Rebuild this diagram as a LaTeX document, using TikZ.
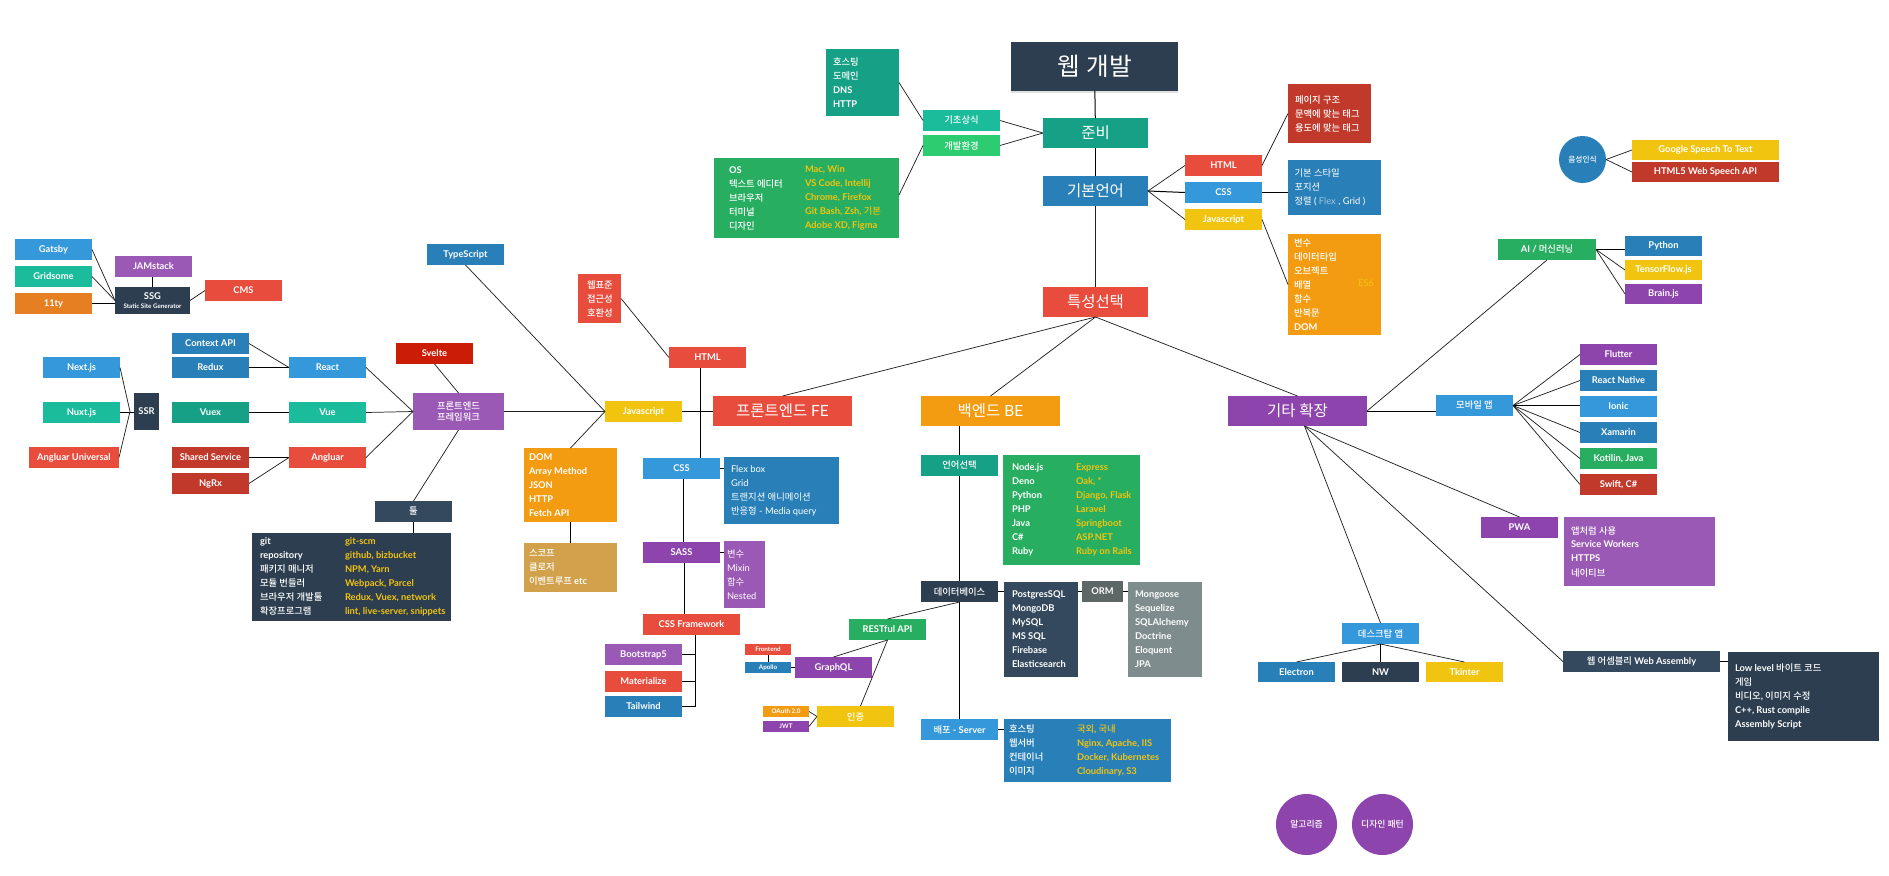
\documentclass[tikz,border=0pt]{standalone}
\usepackage{fontspec}
\setmainfont{Lato}
\newfontfamily\krf{Noto Sans CJK KR}[BoldFont=Noto Sans CJK KR Medium]
\chardef\krclass=77
\XeTeXinterchartokenstate=1
\newcount\krloop
\krloop="AC00
\loop\ifnum\krloop<"D7A4
  \XeTeXcharclass\krloop=\krclass
  \advance\krloop by 1
\repeat
\XeTeXinterchartoks 0 \krclass={\begingroup\krf}
\XeTeXinterchartoks 4095 \krclass={\begingroup\krf}
\XeTeXinterchartoks \krclass 0={\endgroup}
\XeTeXinterchartoks \krclass 4095={\endgroup}
\usetikzlibrary{shapes.geometric,shadows}
\definecolor{cRed}{HTML}{E74C3C}
\definecolor{cDRed}{HTML}{C0392B}
\definecolor{cBlue}{HTML}{3498DB}
\definecolor{cDBlue}{HTML}{2980B9}
\definecolor{cTeal}{HTML}{1ABC9C}
\definecolor{cDTeal}{HTML}{16A085}
\definecolor{cGreen}{HTML}{27AE60}
\definecolor{cLGreen}{HTML}{2ECC71}
\definecolor{cPurple}{HTML}{9B59B6}
\definecolor{cDPurple}{HTML}{8E44AD}
\definecolor{cNavy}{HTML}{2C3E50}
\definecolor{cSlate}{HTML}{34495E}
\definecolor{cYellow}{HTML}{F1C40F}
\definecolor{cOrange}{HTML}{F39C12}
\definecolor{cDOrange}{HTML}{E67E22}
\definecolor{cGray}{HTML}{7F8C8D}
\definecolor{cDGray}{HTML}{5C6766}
\definecolor{cTan}{HTML}{D2A14C}
\definecolor{cSvelte}{HTML}{CB1C05}
\definecolor{cLine}{HTML}{222222}
\newcommand\smallfs{\fontsize{7}{8}\selectfont\bfseries}
\newcommand\bigfs{\fontsize{11.6}{14}\selectfont}
\newcommand\tinyfs{\fontsize{4.7}{6}\selectfont\bfseries}
\tikzset{
  bx/.style={rectangle,inner sep=0pt,outer sep=0pt,text=white,align=center,font=\smallfs},
  elx/.style={ellipse,inner sep=0pt,outer sep=0pt,text=white,align=center,font=\fontsize{6.6}{8}\selectfont\bfseries},
  lst/.style={anchor=west,inner sep=0pt,outer sep=0pt,align=left,font=\fontsize{7}{10.5}\selectfont\bfseries},
  lstr/.style={anchor=west,inner sep=0pt,outer sep=0pt,align=left,font=\fontsize{7}{10.5}\selectfont},
  lk/.style={draw=cLine,line width=0.55pt},
  bar/.style={draw=black,line width=0.75pt},
  bign/.style={font=\bigfs},
  tiny/.style={font=\tinyfs}
}
\newcommand\bx[7][]{%
  \pgfmathsetmacro\bxW{(#5)-(#3)}\pgfmathsetmacro\bxH{(#6)-(#4)}%
  \pgfmathsetmacro\bxX{((#3)+(#5))/2}\pgfmathsetmacro\bxY{((#4)+(#6))/2}%
  \node[bx,fill=#7,minimum width=\bxW*0.75pt,minimum height=\bxH*0.75pt,#1] (#2) at (\bxX,\bxY) {\bxT};}
\newcommand\BX[8][]{\def\bxT{#8}\bx[#1]{#2}{#3}{#4}{#5}{#6}{#7}}
\newcommand\EL[7]{%
  \pgfmathsetmacro\bxW{(#4)-(#2)}\pgfmathsetmacro\bxH{(#5)-(#3)}%
  \pgfmathsetmacro\bxX{((#2)+(#4))/2}\pgfmathsetmacro\bxY{((#3)+(#5))/2}%
  \node[elx,fill=#6,minimum width=\bxW*0.75pt,minimum height=\bxH*0.75pt] (#1) at (\bxX,\bxY) {#7};}
\begin{document}
\begin{tikzpicture}[x=0.75pt,y=-0.75pt]
\useasboundingbox (0,0) rectangle (1889,875);
\fill[white] (0,0) rectangle (1889,875);
% spine
\BX[bign,font=\fontsize{18.5}{22}\selectfont,drop shadow={opacity=.25,shadow xshift=0pt,shadow yshift=-1.5pt}]{title}{1011}{42}{1178}{91}{cNavy}{웹 개발}
\BX[bign]{prep}{1043}{118}{1148}{148}{cDTeal}{준비}
\BX[bign]{lang}{1043}{176}{1148}{206}{cDBlue}{기본언어}
\BX[bign]{sel}{1043}{287}{1148}{317}{cRed}{특성선택}
\BX{basic}{923}{110}{1000}{131}{cTeal}{기초상식}
\BX{devenv}{923}{135}{1000}{156}{cLGreen}{개발환경}
\BX{hostb}{826}{49}{899}{116}{cDTeal}{}
\node[lst,text=white] (hostt) at (833,82.5) {호스팅\\도메인\\DNS\\HTTP};
\BX{envb}{714}{158}{899}{238}{cGreen}{}
\node[lst,text=white] (envl) at (729,198) {OS\\텍스트  에디터\\브라우저\\터미널\\디자인};
\node[lst,text=cYellow] (envr) at (805,198) {Mac, Win\\VS Code, Intellij\\Chrome, Firefox\\Git Bash, Zsh, 기본\\Adobe XD, Figma};
% basic languages
\BX{bhtml}{1185}{155}{1262}{176}{cRed}{HTML}
\BX{bcss}{1185}{182}{1262}{203}{cBlue}{CSS}
\BX{bjs}{1185}{209}{1262}{230}{cYellow}{Javascript}
\BX{pageb}{1288}{84}{1371}{143}{cDRed}{}
\node[lst,text=white] (paget) at (1295,113.5) {페이지 구조\\문맥에 맞는 태그\\용도에 맞는 태그};
\BX{styleb}{1288}{160}{1381}{215}{cDBlue}{}
\node[lstr,text=white] (stylet) at (1294.5,187.5) {기본 스타일\\포지션\\정렬 ( {\color{white!55!cDBlue}Flex} , Grid )};
\BX{jsb}{1288}{234}{1381}{335}{cOrange}{}
\node[lst,text=white] (jst) at (1294,284.5) {변수\\데이터타입\\오브젝트\\배열\\함수\\반복문\\DOM};
\node[lstr,text=cYellow] (es6) at (1358,283) {ES6};
% speech
\EL{voice}{1559}{136}{1606}{183}{cDBlue}{\fontsize{5.8}{7}\selectfont 음성인식}
\BX{stt}{1632}{140}{1779}{160}{cYellow}{Google Speech To Text}
\BX{wsa}{1632}{162}{1779}{182}{cDRed}{HTML5 Web Speech API}
% AI
\BX{ai}{1498}{239}{1596}{260}{cGreen}{AI / 머신러닝}
\BX{py}{1625}{236}{1702}{256}{cDBlue}{Python}
\BX{tf}{1625}{260}{1702}{280}{cYellow}{TensorFlow.js}
\BX{brain}{1625}{284}{1702}{304}{cDPurple}{Brain.js}
% mobile
\BX[bign]{ext}{1228}{396}{1367}{426}{cDPurple}{기타 확장}
\BX{mob}{1436}{395}{1513}{416}{cBlue}{모바일 앱}
\BX{flutter}{1580}{344}{1657}{365}{cDPurple}{Flutter}
\BX{rn}{1580}{370}{1657}{391}{cDBlue}{React Native}
\BX{ionic}{1580}{396}{1657}{417}{cBlue}{Ionic}
\BX{xam}{1580}{422}{1657}{443}{cDBlue}{Xamarin}
\BX{kot}{1580}{448}{1657}{469}{cGreen}{Kotilin, Java}
\BX{swift}{1580}{474}{1657}{495}{cDRed}{Swift, C\#}
% PWA
\BX{pwa}{1481}{517}{1558}{538}{cDPurple}{PWA}
\BX{pwab}{1564}{517}{1715}{586}{cPurple}{}
\node[lst,text=white] (pwat) at (1571,551.5) {앱처럼 사용\\Service Workers\\HTTPS\\네이티브};
% desktop
\BX{desk}{1342}{623}{1419}{644}{cBlue}{데스크탑 앱}
\BX{elec}{1258}{662}{1335}{682}{cDBlue}{Electron}
\BX{nw}{1342}{662}{1419}{682}{cNavy}{NW}
\BX{tk}{1426}{662}{1503}{682}{cYellow}{Tkinter}
% wasm
\BX{wa}{1563}{651}{1720}{672}{cSlate}{웹 어셈블리 Web Assembly}
\BX{wab}{1728}{652}{1879}{741}{cNavy}{}
\node[lst,text=white] (wat) at (1735,696.5) {Low level 바이트 코드\\게임\\비디오, 이미지 수정\\C++, Rust compile\\Assembly Script};
\EL{algo}{1276}{794}{1337}{855}{cDPurple}{알고리즘}
\EL{dp}{1352}{794}{1413}{855}{cDPurple}{디자인 패턴}
% backend
\BX[bign]{be}{921}{396}{1060}{426}{cOrange}{백엔드 BE}
\BX{lsel}{921}{455}{998}{476}{cDTeal}{언어선택}
\BX{lgb}{1003}{455}{1140}{565}{cGreen}{}
\node[lst,text=white] (lgl) at (1012,510) {Node.js\\Deno\\Python\\PHP\\Java\\C\#\\Ruby};
\node[lst,text=cYellow] (lgr) at (1076,510) {Express\\Oak, *\\Django, Flask\\Laravel\\Springboot\\ASP.NET\\Ruby on Rails};
\BX{db}{921}{581}{998}{602}{cNavy}{데이터베이스}
\BX{dbb}{1004}{582}{1078}{677}{cSlate}{}
\node[lst,text=white] (dbt) at (1012,629.5) {PostgresSQL\\MongoDB\\MySQL\\MS SQL\\Firebase\\Elasticsearch};
\BX{orm}{1082}{581}{1123}{602}{cDGray}{ORM}
\BX{ormb}{1128}{582}{1202}{677}{cGray}{}
\node[lst,text=white] (ormt) at (1135,629.5) {Mongoose\\Sequelize\\SQLAlchemy\\Doctrine\\Eloquent\\JPA};
\BX{dep}{921}{719}{998}{740}{cBlue}{배포 - Server}
\BX{depb}{1004}{719}{1171}{782}{cDBlue}{}
\node[lst,text=white] (depl) at (1009,750.5) {호스팅\\웹서버\\컨테이너\\이미지};
\node[lst,text=cYellow] (depr) at (1077,750.5) {국외, 국내\\Nginx, Apache, IIS\\Docker, Kubernetes\\Cloudinary, S3};
\BX{rest}{849}{619}{926}{640}{cGreen}{RESTful API}
\BX{gql}{795}{657}{872}{678}{cDPurple}{GraphQL}
\BX[tiny]{fnt}{745}{644}{791}{655}{cRed}{Frontend}
\BX[tiny]{apo}{745}{662}{791}{673}{cDBlue}{Apollo}
\BX{auth}{817}{706}{894}{727}{cYellow}{인증}
\BX[tiny]{oau}{763}{706}{809}{717}{cOrange}{OAuth 2.0}
\BX[tiny]{jwt}{763}{721}{809}{732}{cDPurple}{JWT}
% frontend
\BX[bign]{fe}{713}{396}{852}{426}{cRed}{프론트엔드 FE}
\BX{html}{669}{347}{746}{368}{cRed}{HTML}
\BX{wsb}{578}{274}{621}{323}{cRed}{}
\node[lst,text=white] (wst) at (587,298.5) {웹표준\\접근성\\호환성};
\BX{js}{605}{401}{682}{422}{cYellow}{Javascript}
\BX{css}{643}{458}{720}{479}{cBlue}{CSS}
\BX{cssb}{724}{457}{839}{524}{cDBlue}{}
\node[lstr,text=white] (csst) at (731,490.5) {Flex box\\Grid\\트랜지션 애니메이션\\반응형 - Media query};
\BX{sass}{643}{542}{720}{563}{cDPurple}{SASS}
\BX{sassb}{724}{541}{765}{608}{cPurple}{}
\node[lstr,text=white] (sasst) at (727,574.5) {변수\\Mixin\\함수\\Nested};
\BX{cfw}{643}{614}{740}{635}{cRed}{CSS Framework}
\BX{boot}{605}{644}{682}{665}{cPurple}{Bootstrap5}
\BX{mat}{605}{671}{682}{692}{cRed}{Materialize}
\BX{tail}{605}{696}{682}{717}{cDBlue}{Tailwind}
\BX{domb}{524}{448}{617}{522}{cOrange}{}
\node[lst,text=white] (domt) at (529,485) {DOM\\Array Method\\JSON\\HTTP\\Fetch API};
\BX{scob}{524}{543}{617}{592}{cTan}{}
\node[lst,text=white] (scot) at (529,567.5) {스코프\\클로저\\이벤트루프 etc};
\BX{ts}{427}{244}{504}{265}{cDBlue}{TypeScript}
\BX{fw}{413}{393}{504}{430}{cPurple}{프론트엔드\\프레임워크}
\BX{svelte}{396}{343}{473}{364}{cSvelte}{Svelte}
\BX{tool}{375}{501}{452}{522}{cSlate}{툴}
\BX{toolb}{252}{533}{451}{621}{cNavy}{}
\node[lst,text=white] (tooll) at (260,576.5) {git\\repository\\패키지 매니저\\모듈 번들러\\브라우저 개발툴\\확장프로그램};
\node[lst,text=cYellow] (toolr) at (345,576.5) {git-scm\\github, bizbucket\\NPM, Yarn\\Webpack, Parcel\\Redux, Vuex, network\\lint, live-server, snippets};
\BX{react}{289}{357}{366}{378}{cBlue}{React}
\BX{vue}{289}{402}{366}{423}{cTeal}{Vue}
\BX{ang}{289}{447}{366}{468}{cRed}{Angluar}
\BX{ctx}{172}{333}{249}{354}{cDBlue}{Context API}
\BX{redux}{172}{357}{249}{378}{cDBlue}{Redux}
\BX{vuex}{172}{402}{249}{423}{cDTeal}{Vuex}
\BX{shared}{172}{447}{249}{468}{cDRed}{Shared Service}
\BX{ngrx}{172}{473}{249}{494}{cDRed}{NgRx}
\BX{next}{43}{357}{120}{378}{cBlue}{Next.js}
\BX{nuxt}{43}{402}{120}{423}{cTeal}{Nuxt.js}
\BX{au}{29}{447}{119}{468}{cRed}{Angluar Universal}
\BX{ssr}{134}{393}{159}{430}{cNavy}{SSR}
\BX{gats}{15}{239}{92}{260}{cBlue}{Gatsby}
\BX{grid}{15}{266}{92}{287}{cTeal}{Gridsome}
\BX{ety}{15}{293}{92}{314}{cDOrange}{11ty}
\BX{jam}{115}{256}{192}{277}{cPurple}{JAMstack}
\BX{ssg}{115}{287}{190}{314}{cNavy}{SSG\\[-1pt]{\tinyfs Static Site Generator}}
\BX{cms}{205}{280}{282}{301}{cRed}{CMS}
% connectors
\coordinate (ssrj) at ([shift={(-4,0)}]ssr.west);
\coordinate (trunk) at ([shift={(4,0)}]cfw.south);
\coordinate (extb) at ([shift={(7,0)}]ext.south);
\draw[bar] (title) -- (prep);
\draw[bar] (prep) -- (lang);
\draw[lk] (lang) -- (sel);
\draw[lk] (basic.east) -- (prep.west);
\draw[lk] (devenv.east) -- (prep.west);
\draw[lk] (hostb.east) -- (basic.west);
\draw[lk] ([shift={(0,-3)}]envb.east) -- (devenv.west);
\draw[lk] (lang.east) -- (bhtml.west);
\draw[bar] (lang.east) -- (bcss.west);
\draw[lk] (lang.east) -- (bjs.west);
\draw[lk] (bhtml.east) -- (pageb.west);
\draw[bar] (bcss.east) -- (bcss.east -| styleb.west);
\draw[lk] (bjs.east) -- (jsb.west);
\draw[lk] (voice.east) -- (stt.west);
\draw[lk] (voice.east) -- (wsa.west);
\draw[lk] (sel.south) -- (fe.north);
\draw[lk] (sel.south) -- (be.north);
\draw[lk] (sel.south) -- (ext.north);
\draw[lk] (ext.east) -- (ai.south);
\draw[bar] (ext.east) -- (ext.east -| mob.west);
\draw[bar] (ai.east) -- (ai.east -| py.west);
\draw[lk] (ai.east) -- (tf.west);
\draw[lk] (ai.east) -- (brain.west);
\draw[lk] (mob.east) -- (flutter.west);
\draw[lk] (mob.east) -- (rn.west);
\draw[bar] (mob.east) -- (mob.east -| ionic.west);
\draw[lk] (mob.east) -- (xam.west);
\draw[lk] (mob.east) -- (kot.west);
\draw[lk] (mob.east) -- (swift.west);
\draw[lk] (extb) -- (pwa.north);
\draw[lk] (extb) -- (wa.west);
\draw[lk] (extb) -- (desk.north);
\draw[lk] (desk.south) -- (elec.north);
\draw[bar] (desk.south) -- (desk.south |- nw.north);
\draw[lk] (desk.south) -- (tk.north);
\draw[bar] (wa.east) -- (wa.east -| wab.west);
\draw[bar] ([shift={(-31,0)}]be.south) -- (lsel.north);
\draw[bar] (lsel.south) -- (db.north);
\draw[bar] (db.south) -- (dep.north);
\draw[bar] (db.east) -- (db.east -| dbb.west);
\draw[bar] (db.east -| dbb.east) -- (orm.west);
\draw[bar] (orm.east) -- (orm.east -| ormb.west);
\draw[bar] (dep.east) -- (dep.east -| depb.west);
\draw[lk] (db.south) -- (rest.north);
\draw[lk] (rest.south) -- (gql.north);
\draw[lk] (rest.south) -- ([shift={(5,0)}]auth.north);
\draw[bar] (apo.east) -- (apo.east -| gql.west);
\draw[bar] (fnt.south) -- (apo.north);
\draw[lk] (oau.east) -- (auth.west);
\draw[lk] (jwt.east) -- (auth.west);
\draw[bar] (js.east) -- (js.east -| fe.west);
\draw[lk] (wsb.east) -- (html.west);
\draw[bar] ([shift={(-7.5,0)}]html.south) -- ([shift={(18.5,0)}]css.north);
\draw[bar] (css.east) -- (css.east -| cssb.west);
\draw[bar] ([shift={(1.5,0)}]css.south) -- ([shift={(1.5,0)}]sass.north);
\draw[bar] (sass.east) -- (sass.east -| sassb.west);
\draw[bar] ([shift={(2.5,0)}]sass.south) -- ([shift={(-7.5,0)}]cfw.north);
\draw[bar] (trunk) |- (tail.east);
\draw[bar] (boot.east) -- (boot.east -| trunk);
\draw[bar] (mat.east) -- (mat.east -| trunk);
\draw[lk] (ts.south) -- (js.west);
\draw[lk] (domb.north) -- (js.west);
\draw[bar] (domb.south) -- (scob.north);
\draw[lk] (fw.east) -- (js.west);
\draw[lk] (svelte.south) -- (fw.north);
\draw[lk] (fw.south) -- (tool.north);
\draw[bar] (tool.south) -- (tool.south |- toolb.north);
\draw[lk] (react.east) -- (fw.west);
\draw[lk] (vue.east) -- (fw.west);
\draw[lk] (ang.east) -- (fw.west);
\draw[lk] (ctx.east) -- (react.west);
\draw[bar] (redux.east) -- (react.west);
\draw[bar] (vuex.east) -- (vue.west);
\draw[bar] (shared.east) -- (ang.west);
\draw[lk] (ngrx.east) -- (ang.west);
\draw[lk] (next.east) -- (ssrj);
\draw[bar] (nuxt.east) -- (nuxt.east -| ssr.west);
\draw[lk] (au.east) -- (ssrj);
\draw[lk] (gats.east) -- (ssg.west);
\draw[lk] (grid.east) -- (ssg.west);
\draw[bar] (ety.east) -- (ety.east -| ssg.west);
\draw[bar] (jam.south -| ssg.north) -- (ssg.north);
\draw[lk] (ssg.east) -- (cms.west);
\end{tikzpicture}
\end{document}
